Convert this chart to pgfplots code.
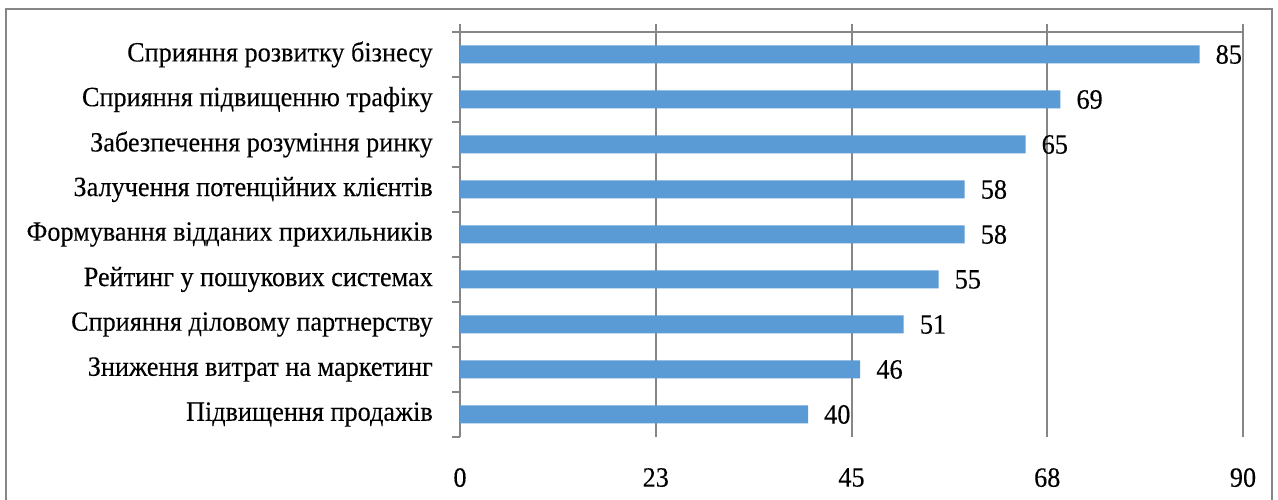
\documentclass[border=0pt]{standalone}
\usepackage{fontspec}
\setmainfont{Liberation Serif}[FakeStretch=0.94, FakeBold=0.2]
\usepackage{pgfplots}
\usepackage{pgfplotstable}
\pgfplotsset{compat=1.18}

\definecolor{barblue}{HTML}{5B9BD5}
\definecolor{rulegray}{HTML}{868686}

% Benefits, listed from the bottom bar to the top bar
\pgfplotstableread[col sep=comma]{
pos,value,label
0,40,Підвищення продажів
1,46,Зниження витрат на маркетинг
2,51,Сприяння діловому партнерству
3,55,Рейтинг у пошукових системах
4,58,Формування відданих прихильників
5,58,Залучення потенційних клієнтів
6,65,Забезпечення розуміння ринку
7,69,Сприяння підвищенню трафіку
8,85,Сприяння розвитку бізнесу
}\benefits

\newcommand{\lblfont}{\fontsize{28}{32}\selectfont}

\begin{document}
\begin{tikzpicture}[x=1bp,y=1bp]
\useasboundingbox (0,0) rectangle (1278,500);
% outer chart frame
\draw[rulegray, line width=2bp] (6,-5) -- (6,491) -- (1272,491) -- (1272,-5);

\begin{axis}[
  scale only axis,
  width=783bp, height=405bp,
  at={(460bp,63bp)}, anchor=south west,
  xbar, bar width=18bp,
  xmin=0, xmax=90, ymin=-0.5, ymax=8.5,
  axis line style={draw=none},
  xtick={0,22.5,45,67.5,90},
  xticklabels={0,23,45,68,90},
  xtick pos=right, xticklabel pos=left,
  ytick={0,...,8},
  yticklabels from table={\benefits}{label},
  ytick pos=left,
  minor ytick={-0.5,0.5,...,8.5},
  extra y ticks={8.5},
  extra y tick labels={},
  extra y tick style={ymajorgrids=true},
  tick align=outside,
  major tick length=8bp, minor tick length=8bp,
  major y tick style={draw=none},
  minor y tick style={rulegray, line width=2bp},
  major x tick style={rulegray, line width=2bp},
  xmajorgrids,
  grid style={rulegray, line width=2bp},
  /pgf/number format/assume math mode=true,
  tick label style={font=\lblfont, inner sep=0pt},
  yticklabel style={anchor=east, xshift=-19bp},
  xticklabel style={anchor=north, yshift=-23bp},
  nodes near coords,
  point meta=x,
  nodes near coords style={font=\lblfont, anchor=west, inner sep=0pt, xshift=16bp, text=black},
]
\addplot[fill=barblue, draw=none] table[x=value, y=pos] {\benefits};
\end{axis}
\end{tikzpicture}
\end{document}
